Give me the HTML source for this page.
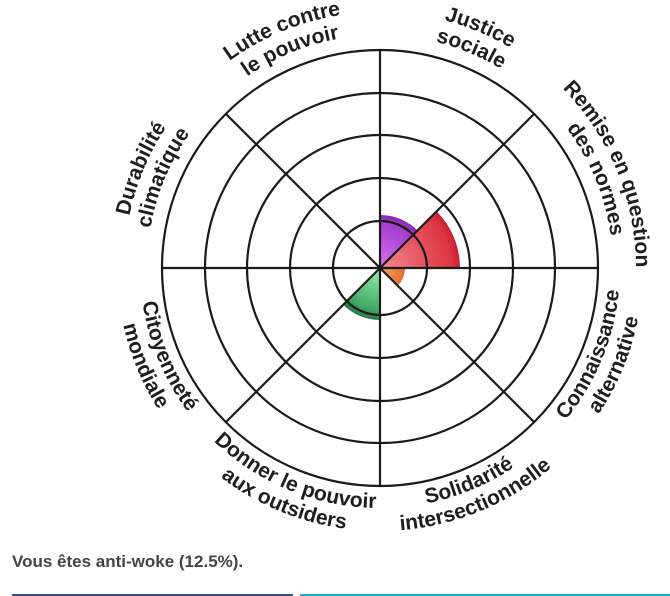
<!DOCTYPE html>
<html><head><meta charset="utf-8"><style>
html,body{margin:0;padding:0;background:#fff;width:670px;height:596px;overflow:hidden;}
svg{position:absolute;left:0;top:0;}
.l{font-family:"Liberation Sans",sans-serif;font-weight:bold;font-size:21px;fill:#1e1e1e;}
.cap{position:absolute;left:12px;top:552px;font-family:"Liberation Sans",sans-serif;font-weight:bold;font-size:17px;color:#444;}
</style></head><body>
<svg width="670" height="596" viewBox="0 0 670 596">
<defs>
<radialGradient id="gp" cx="380" cy="268" r="53" gradientUnits="userSpaceOnUse"><stop offset="0" stop-color="#e070f0"/><stop offset="0.85" stop-color="#a23ccc"/><stop offset="1" stop-color="#8a28b0"/></radialGradient>
<radialGradient id="gr" cx="380" cy="268" r="80" gradientUnits="userSpaceOnUse"><stop offset="0" stop-color="#f48a90"/><stop offset="0.9" stop-color="#dc3442"/><stop offset="1" stop-color="#c92030"/></radialGradient>
<radialGradient id="go" cx="380" cy="268" r="25" gradientUnits="userSpaceOnUse"><stop offset="0" stop-color="#f7a070"/><stop offset="1" stop-color="#e27030"/></radialGradient>
<radialGradient id="gg" cx="380" cy="268" r="52" gradientUnits="userSpaceOnUse"><stop offset="0" stop-color="#98f0b0"/><stop offset="0.82" stop-color="#3fa865"/><stop offset="1" stop-color="#257a45"/></radialGradient>
<path id="cw1" d="M636,268 A256,256 0 1 1 124,268 A256,256 0 1 1 636,268"/>
<path id="cw2" d="M613,268 A233,233 0 1 1 147,268 A233,233 0 1 1 613,268"/>
<path id="cc1" d="M620,268 A240,240 0 1 0 140,268 A240,240 0 1 0 620,268"/>
<path id="cc2" d="M643,268 A263,263 0 1 0 117,268 A263,263 0 1 0 643,268"/>
</defs>
<path d="M380,268 L380,215 A53,53 0 0 1 417.5,230.5 Z" fill="url(#gp)"/>
<path d="M380,268 L436.6,211.4 A80,80 0 0 1 460,268 Z" fill="url(#gr)"/>
<path d="M380,268 L405,268 A25,25 0 0 1 397.7,285.7 Z" fill="url(#go)"/>
<path d="M380,268 L380,320 A52,52 0 0 1 343.2,304.8 Z" fill="url(#gg)"/>
<g fill="none" stroke="#1a1a1a" stroke-width="2.2">
<circle cx="380" cy="268" r="47"/><circle cx="380" cy="268" r="90"/><circle cx="380" cy="268" r="133"/><circle cx="380" cy="268" r="175"/><circle cx="380" cy="268" r="218"/>
<line x1="162" y1="268" x2="598" y2="268"/><line x1="380" y1="50" x2="380" y2="486"/>
<line x1="225.9" y1="113.9" x2="534.1" y2="422.1"/><line x1="225.9" y1="422.1" x2="534.1" y2="113.9"/>
</g>
<circle cx="380" cy="268" r="3" fill="#1a1a1a"/>
<g class="l" text-anchor="middle">
<text><textPath href="#cw1" startOffset="904.8">Durabilité</textPath></text>
<text><textPath href="#cw2" startOffset="823.5">climatique</textPath></text>
<text><textPath href="#cw1" startOffset="1105.8">Lutte contre</textPath></text>
<text><textPath href="#cw2" startOffset="1006.5">le pouvoir</textPath></text>
<text><textPath href="#cw1" startOffset="1306.9">Justice</textPath></text>
<text><textPath href="#cw2" startOffset="1189.4">sociale</textPath></text>
<text><textPath href="#cw1" startOffset="1508.0">Remise en question</textPath></text>
<text><textPath href="#cw2" startOffset="1372.5">des normes</textPath></text>
<text><textPath href="#cc1" startOffset="848.2">Citoyenneté</textPath></text>
<text><textPath href="#cc2" startOffset="929.5">mondiale</textPath></text>
<text><textPath href="#cc1" startOffset="1036.7">Donner le pouvoir</textPath></text>
<text><textPath href="#cc2" startOffset="1136.1">aux outsiders</textPath></text>
<text><textPath href="#cc1" startOffset="1225.2">Solidarité</textPath></text>
<text><textPath href="#cc2" startOffset="1342.6">intersectionnelle</textPath></text>
<text><textPath href="#cc1" startOffset="1413.7">Connaissance</textPath></text>
<text><textPath href="#cc2" startOffset="1549.2">alternative</textPath></text>
</g>
<rect x="12" y="594" width="281" height="2" fill="#3a4a8a"/>
<rect x="300" y="594" width="370" height="2" fill="#1aa8d0"/>
</svg>
<div class="cap">Vous êtes anti-woke (12.5%).</div>
</body></html>
